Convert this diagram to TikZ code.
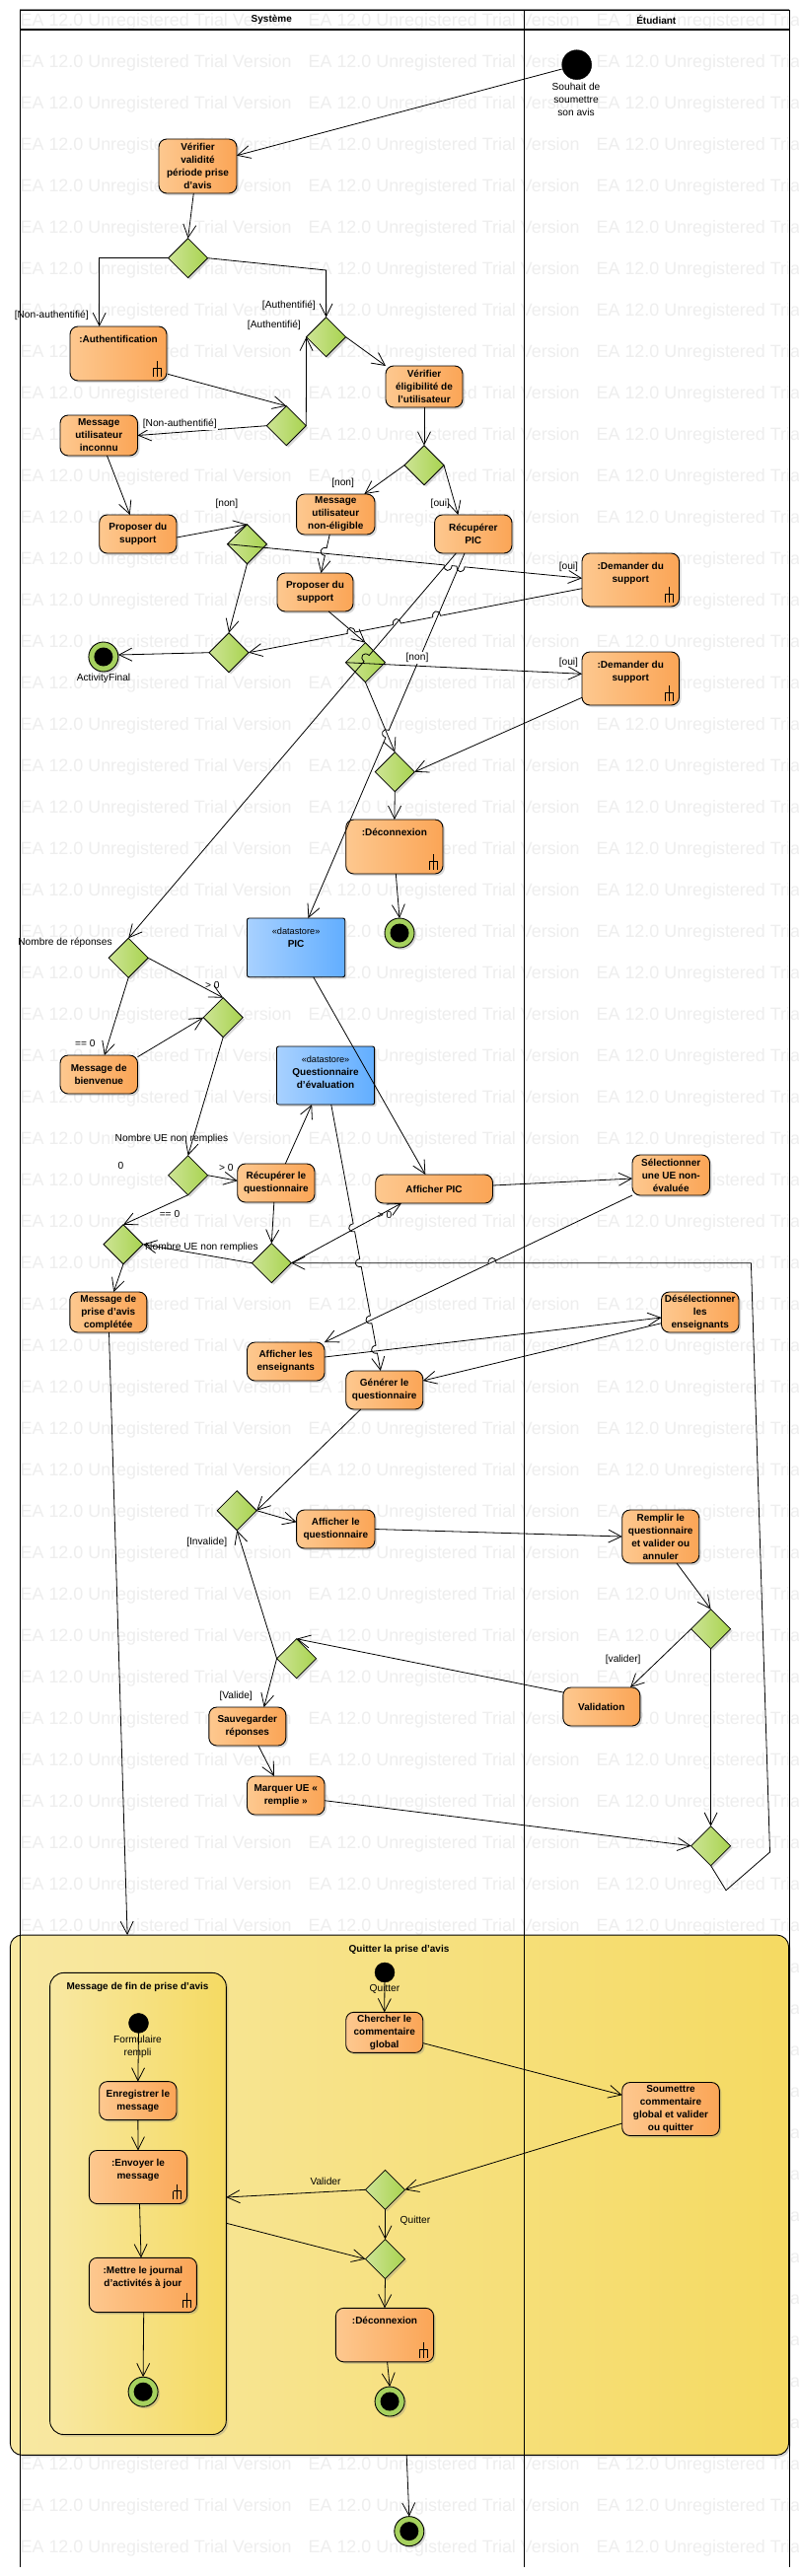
\documentclass[tikz,border=0pt]{standalone}
\usepackage{fontspec}
\setmainfont{Liberation Sans}
\usetikzlibrary{arrows.meta,calc,shapes.geometric,shadows}
\definecolor{orL}{HTML}{FDC88F}
\definecolor{orR}{HTML}{FBA556}
\definecolor{blL}{HTML}{A8D1FF}
\definecolor{blR}{HTML}{62AEFF}
\definecolor{grL}{HTML}{CDE495}
\definecolor{grR}{HTML}{A8D34F}
\definecolor{ring}{HTML}{A6D15E}
\definecolor{yeL}{HTML}{F8E8A2}
\definecolor{yeR}{HTML}{F5DA62}
\definecolor{wmk}{HTML}{EEEEEE}
\tikzset{
  every node/.style={outer sep=0pt,inner sep=0pt},
  shad/.style={drop shadow={shadow xshift=2pt,shadow yshift=-2pt,opacity=.3}},
  actbox/.style={draw=black,line width=.9pt,rounded corners=8pt,left color=orL,right color=orR,shad,
     align=center,font=\fontsize{10}{13}\selectfont\bfseries},
  acttxt/.style={align=center,font=\fontsize{10}{13}\selectfont\bfseries},
  storebox/.style={draw=black,line width=.9pt,rounded corners=2pt,left color=blL,right color=blR,shad},
  diabox/.style={diamond,shape aspect=1,minimum width=40pt,minimum height=40pt,draw=black,line width=.8pt,
     left color=grL,right color=grR,shad},
  startdot/.style={circle,fill=black,draw=black},
  findot/.style={circle,fill=ring,draw=black,line width=.9pt,minimum size=30pt,shad},
  lbl/.style={align=center,font=\fontsize{10.2}{13}\selectfont},
  lblw/.style={lbl,fill=white,inner xsep=1.5pt,inner ysep=1pt},
  regionbox/.style={draw=black,line width=.9pt,left color=yeL,right color=yeR,shad},
  regtitle/.style={font=\fontsize{10}{13}\selectfont\bfseries},
  conn/.style={draw=black,line width=.8pt,-{Straight Barb[length=13pt,width=13pt,line width=.8pt]}},
  plain/.style={draw=black,line width=.8pt},
  rake/.style={draw=black,line width=.7pt},
  lane/.style={draw=black,line width=1pt},
  wmtext/.style={anchor=west,text=wmk,font=\fontsize{17.9}{20}\selectfont}
}
\newcommand\xact[6]{%
  \pgfmathsetmacro\xaw{#4-#2}\pgfmathsetmacro\xah{#5-#3}%
  \pgfmathsetmacro\xax{(#2+#4)/2}\pgfmathsetmacro\xay{(#3+#5)/2}%
  \node[actbox,minimum width=\xaw pt,minimum height=\xah pt] (#1) at (\xax,\xay) {#6};}
\newcommand\xcall[6]{%
  \pgfmathsetmacro\xaw{#4-#2}\pgfmathsetmacro\xah{#5-#3}%
  \pgfmathsetmacro\xax{(#2+#4)/2}\pgfmathsetmacro\xay{(#3+#5)/2}%
  \node[actbox,minimum width=\xaw pt,minimum height=\xah pt] (#1) at (\xax,\xay) {};
  \node[acttxt,anchor=north] (#1t) at ($(#1.north)+(0,7)$) {\strut #6};
  \draw[rake] (#1.south east) ++(-10,-20) -- ++(0,15.7)
     (#1.south east) ++(-14,-12.7) -- ++(8,0) -- ++(0,8.4)
     (#1.south east) ++(-14,-12.7) -- ++(0,8.4);}
\newcommand\xstore[6]{%
  \pgfmathsetmacro\xaw{#4-#2}\pgfmathsetmacro\xah{#5-#3}%
  \pgfmathsetmacro\xax{(#2+#4)/2}\pgfmathsetmacro\xay{(#3+#5)/2}%
  \node[storebox,minimum width=\xaw pt,minimum height=\xah pt] (#1) at (\xax,\xay) {};
  \node[acttxt,anchor=north] (#1t) at ($(#1.north)+(0,7)$) {\strut {\mdseries\fontsize{9.2}{13}\selectfont «datastore»}\\ #6};}
\newcommand\xdia[3]{\node[diabox] (#1) at (#2,#3) {};}
\newcommand\xfin[3]{\node[findot] (#1) at (#2,#3) {}; \fill[black] (#1) circle (9.5);}
\newcommand\xlab[4]{\node[lbl] (#1) at (#2,#3) {#4};}
\newcommand\cnx[2]{\draw[conn] (#1) -- (#2);}
\newcommand\jcnx[4]{%
  \coordinate (ja) at (#1); \coordinate (jb) at (#2);
  \draw[conn] (ja) \foreach \t in {#3} {
     -- ($(ja)!\t!(jb)!4pt!(ja)$)
     .. controls ($(ja)!\t!(jb)!4pt!(ja)!7pt!#4:(jb)$) and ($(ja)!\t!(jb)!4pt!(jb)!7pt!#4:(jb)$)
     .. ($(ja)!\t!(jb)!4pt!(jb)$)
  } -- (jb);}
\begin{document}
\begin{tikzpicture}[x=1pt,y=-1pt]
\useasboundingbox (0,0) rectangle (810,2612);
\fill[white] (0,0) rectangle (810,2612);
% watermark
\begin{scope}
\clip (20,10) rectangle (810,2612);
\foreach \r in {0,...,61}{
  \foreach \c in {0,1,2}{
    \pgfmathsetmacro\wx{20.7+292*\c}\pgfmathsetmacro\wy{21.7+42*\r}
    \node[wmtext] (wm\r-\c) at (\wx,\wy) {EA 12.0 Unregistered Trial Version};
  }
}
\end{scope}
% regions
\node[regionbox,rounded corners=12pt,minimum width=789.3pt,minimum height=527.3pt] (reg) at (404.95,2225.7) {};
\node[regionbox,rounded corners=14pt,minimum width=178.7pt,minimum height=468.1pt] (rin) at (139.95,2234.45) {};
% lanes
\draw[gray,line width=1pt] (20,9.5) -- (800,9.5);
\draw[lane] (20,10.5) -- (800,10.5) (20,10) -- (20,2603) (800,10) -- (800,2603) (531.5,10) -- (531.5,2603);
\draw[lane,line width=1.1pt] (20,30) -- (800,30);
\node[regtitle] (lsys) at (275.3,19.7) {Système};
\node[regtitle] (letu) at (665.3,19.7) {Étudiant};
\node[regtitle] (tq) at (404.5,1976.4) {Quitter la prise d'avis};
\node[regtitle] (tm) at (139.5,2014.6) {Message de fin de prise d'avis};
% initial nodes
\node[startdot,minimum size=30pt] (st1) at (584.7,65.7) {};
\node[startdot,minimum size=20pt] (s2) at (390,2000) {};
\node[startdot,minimum size=20pt] (s3) at (140.5,2051.4) {};
% actions
\xact{v1}{161}{141}{240}{196}{Vérifier\\validité\\période prise\\d'avis}
\xcall{auth}{71}{331}{169}{386}{:Authentification}
\xact{mu}{61}{421}{139.5}{462}{Message\\utilisateur\\inconnu}
\xact{vf2}{391}{371}{469}{413}{Vérifier\\éligibilité de\\l'utilisateur}
\xact{mn}{300.6}{501}{380}{542}{Message\\utilisateur\\non-éligible}
\xact{pr1}{100.7}{522}{179}{561}{Proposer du\\support}
\xact{rp}{440.6}{522}{519}{561}{Récupérer\\PIC}
\xact{pr2}{281}{581}{358}{620}{Proposer du\\support}
\xcall{dm1}{590}{561}{688.5}{615}{:Demander du\\support}
\xcall{dm2}{590}{661}{688.5}{715}{:Demander du\\support}
\xcall{dc1}{350.7}{831}{449}{886}{:Déconnexion}
\xstore{store1}{250.5}{931}{349.7}{990.7}{PIC}
\xact{mb}{61}{1070}{139.5}{1109}{Message de\\bienvenue}
\xstore{qs}{280.5}{1061}{379.6}{1120}{Questionnaire\\d'évaluation}
\xact{rq}{240.7}{1180}{319}{1219}{Récupérer le\\questionnaire}
\xact{afp}{380.7}{1191}{499.5}{1220}{Afficher PIC}
\xact{sel}{641}{1171}{719.5}{1212}{Sélectionner\\une UE non-\\évaluée}
\xact{mc}{70.8}{1310}{148.8}{1351}{Message de\\prise d'avis\\complétée}
\xact{de}{670.5}{1310}{749}{1351}{Désélectionner\\les\\enseignants}
\xact{ae}{250.5}{1361}{329}{1400}{Afficher les\\enseignants}
\xact{gq}{350.7}{1390}{428.7}{1429}{Générer le\\questionnaire}
\xact{aq}{300.6}{1531}{380}{1570}{Afficher le\\questionnaire}
\xact{rm}{630.7}{1531}{708.7}{1585}{Remplir le\\questionnaire\\et valider ou\\annuler}
\xact{val}{570.8}{1711}{648.8}{1750}{Validation}
\xact{sv}{211.8}{1731}{289.8}{1770}{Sauvegarder\\réponses}
\xact{mq}{250.5}{1801}{329}{1840}{Marquer UE «\\remplie »}
\xact{ch}{350.7}{2040.3}{428.7}{2081.4}{Chercher le\\commentaire\\global}
\xact{so}{630.7}{2111.5}{729.3}{2165.5}{Soumettre\\commentaire\\global et valider\\ou quitter}
\xact{en}{100.7}{2110.6}{179}{2149.6}{Enregistrer le\\message}
\xcall{ev}{90.4}{2180.5}{189.6}{2234.5}{:Envoyer le\\message}
\xcall{me}{90.4}{2289.3}{199.4}{2344.6}{:Mettre le journal\\d'activités à jour}
\xcall{dc2}{340.4}{2340.3}{439.6}{2394.8}{:Déconnexion}
% decisions
\xdia{d1}{190.6}{261.7}
\xdia{d2}{330.6}{341.7}
\xdia{d3}{290.3}{431.7}
\xdia{d4}{430}{471.7}
\xdia{d5}{250.5}{551.7}
\xdia{d6}{232}{661.7}
\xdia{d7}{370.4}{671.7}
\xdia{d8}{400.3}{782.7}
\xdia{d9}{130.2}{971.3}
\xdia{d10}{226.2}{1031.7}
\xdia{d11}{190.6}{1191.7}
\xdia{d12}{125}{1261.7}
\xdia{d13}{275.3}{1280.7}
\xdia{d14}{240.2}{1531.7}
\xdia{d15}{720.6}{1651.7}
\xdia{d16}{300.6}{1681.7}
\xdia{d17}{720.6}{1871.7}
\xdia{d18}{390.5}{2220.3}
\xdia{d19}{390.5}{2290.6}
% finals
\xfin{fin1}{104.9}{666}
\xfin{fin2}{405}{946}
\xfin{fin3}{395.1}{2435}
\xfin{fin4}{414.8}{2566.6}
\xfin{fin5}{145.1}{2425.2}
% helper bends
\coordinate (kd1) at (330.6,274);
\coordinate (k1) at (736,1916.7);
\coordinate (k2) at (780.5,1878);
\coordinate (k3) at (761.4,1280.7);
% connectors
\cnx{[yshift=-4.3pt]st1.west}{[yshift=10.8pt]v1.east}
\cnx{[xshift=-4.2pt]v1.south}{d1.north}
\draw[conn] (d1.west) -| ([xshift=-19.3pt]auth.north);
\draw[conn] (d1.east) -- (kd1) -- (d2.north);
\cnx{[xshift=1pt,yshift=-20.8pt]auth.east}{d3.north}
\cnx{d3.east}{d2.west}
\cnx{d3.west}{mu.east}
\cnx{[xshift=8.25pt]mu.south}{[xshift=-8.1pt]pr1.north}
\cnx{d2.east}{vf2.north west}
\cnx{vf2.south}{d4.north}
\cnx{d4.west}{[xshift=29pt]mn.north}
\cnx{d4.east}{[xshift=-15.4pt]rp.north}
\cnx{[yshift=-3.5pt]pr1.east}{d5.north}
\jcnx{d5.west}{[yshift=1.7pt]dm1.west}{.622,.658}{-90}
\cnx{d5.south}{d6.north}
\cnx{d6.west}{[yshift=2pt]fin1.east}
\jcnx{[yshift=-8.7pt]dm1.west}{d6.east}{.436,.555,.692}{-90}
\jcnx{[xshift=-6.1pt]mn.south}{[xshift=5.9pt]pr2.north}{.45}{-90}
\cnx{[xshift=13.7pt]pr2.south}{d7.north}
\jcnx{[xshift=-17.5pt]rp.south}{d9.north}{.273}{-90}
\jcnx{[xshift=-8.8pt]rp.south}{[xshift=12.4pt]store1.north}{.495}{-90}
\cnx{d7.west}{[yshift=4.7pt]dm2.west}
\cnx{d7.south}{d8.north}
\cnx{[yshift=-19.3pt]dm2.west}{d8.east}
\cnx{d8.south}{dc1.north}
\cnx{[xshift=1.45pt]dc1.south}{fin2.north}
\cnx{d9.south}{[xshift=5.65pt]mb.north}
\cnx{d9.east}{d10.north}
\cnx{[yshift=17.8pt]mb.east}{d10.west}
\cnx{[xshift=17.6pt]store1.south}{[xshift=-8.8pt]afp.north}
\cnx{d10.south}{d11.north}
\cnx{d11.east}{[yshift=2.2pt]rq.west}
\cnx{d11.south}{d12.north}
\cnx{[xshift=9.45pt]rq.north}{[xshift=-13.9pt]qs.south}
\cnx{[xshift=-2pt]rq.south}{d13.north}
\cnx{d13.west}{d12.east}
\cnx{d12.south}{[xshift=5.4pt]mc.north}
\cnx{d13.east}{[xshift=-33.1pt]afp.south}
\cnx{[yshift=3.5pt]afp.east}{[yshift=-3.5pt]sel.west}
\cnx{sel.south west}{ae.north east}
\jcnx{[xshift=5.7pt]qs.south}{[xshift=-3.9pt]gq.north}{.462,.594,.807,.919}{-90}
\cnx{[yshift=4.5pt]ae.east}{[yshift=-5.5pt]de.west}
\cnx{[yshift=-11.2pt]de.west}{[yshift=9.5pt]gq.east}
\cnx{[xshift=-24pt]gq.south}{d14.east}
\cnx{d14.east}{[yshift=7.2pt]aq.west}
\cnx{aq.east}{rm.west}
\cnx{[xshift=16.3pt]rm.south}{d15.north}
\cnx{d15.west}{[xshift=29.2pt]val.north}
\cnx{d15.south}{d17.north}
\cnx{[yshift=14.5pt]val.west}{d16.north}
\cnx{d16.west}{d14.south}
\cnx{d16.west}{[xshift=16.8pt]sv.north}
\cnx{[xshift=11.1pt]sv.south}{[xshift=-11.85pt]mq.north}
\cnx{[yshift=-5.2pt]mq.east}{d17.west}
\cnx{[xshift=.7pt]mc.south}{[xshift=-275.85pt]reg.north}
\draw[plain] (d17.south) -- (k1) -- (k2) -- (k3);
\jcnx{k3}{d13.east}{.563}{-90}
\cnx{s2.south}{ch.north}
\cnx{[yshift=-10.75pt]ch.east}{[yshift=14.2pt]so.west}
\cnx{[yshift=-14.5pt]so.west}{d18.east}
\cnx{d18.south}{d19.north}
\cnx{d19.south}{dc2.north}
\cnx{[xshift=2.6pt]dc2.south}{fin3.north}
\cnx{[xshift=7.25pt]reg.south}{fin4.north}
\cnx{d18.west}{[yshift=6.45pt]rin.east}
\cnx{[yshift=-19.75pt]rin.east}{d19.west}
\cnx{s3.south}{en.north}
\cnx{en.south}{ev.north}
\cnx{[xshift=1.5pt]ev.south}{[xshift=-1.9pt]me.north}
\cnx{[xshift=.8pt]me.south}{fin5.north}
% labels
\xlab{l1}{584}{101}{Souhait de\\soumettre\\son avis}
\xlab{l2}{52.2}{319.7}{[Non-authentifié]}
\xlab{l3}{292.9}{309.7}{[Authentifié]}
\xlab{l4}{277.9}{329.7}{[Authentifié]}
\node[lblw] (l5) at (182.3,429.7) {[Non-authentifié]};
\xlab{l6}{347.6}{490}{[non]}
\xlab{l7}{446.3}{510.7}{[oui]}
\xlab{l8}{229.9}{511}{[non]}
\xlab{l9}{576.4}{574.7}{[oui]}
\xlab{l10}{576.4}{672}{[oui]}
\node[lblw] (l11) at (423,667) {[non]};
\xlab{l12}{105}{687.7}{ActivityFinal}
\xlab{l13}{66}{955.7}{Nombre de réponses}
\xlab{l14}{215.4}{999.3}{> 0}
\xlab{l15}{86.3}{1058.3}{== 0}
\xlab{l16}{174}{1154.7}{Nombre UE non remplies}
\xlab{l17}{122.4}{1181.7}{0}
\xlab{l18}{229.3}{1184.3}{> 0}
\xlab{l19}{172}{1231.3}{== 0}
\xlab{l20}{390}{1232.3}{> 0}
\xlab{l21}{204.5}{1264.7}{Nombre UE non remplies}
\xlab{l22}{209.7}{1563.7}{[Invalide]}
\xlab{l23}{239.2}{1719.7}{[Valide]}
\xlab{l24}{631.7}{1682.7}{[valider]}
\xlab{l25}{390}{2016.7}{Quitter}
\xlab{l26}{139.5}{2075}{Formulaire\\rempli}
\xlab{l27}{330}{2211.8}{Valider}
\xlab{l28}{421}{2251.6}{Quitter}
\end{tikzpicture}
\end{document}
